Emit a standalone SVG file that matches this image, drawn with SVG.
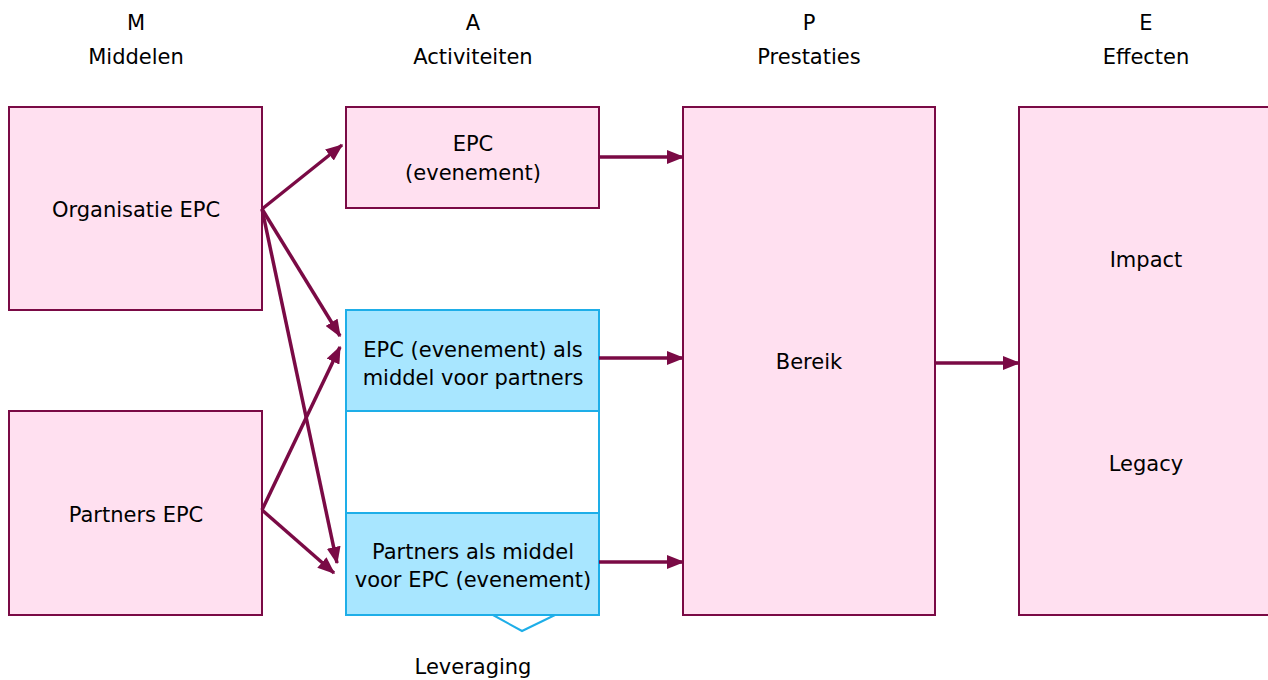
<svg xmlns="http://www.w3.org/2000/svg" width="1268" height="680" viewBox="0 0 1268 680">
<style>
text{font-family:"DejaVu Sans","Liberation Sans",sans-serif;font-size:21px;fill:#000;text-anchor:middle}
.pink{fill:#FFE0F0;stroke:#7A0A45;stroke-width:2}
.blue{fill:#A8E6FF;stroke:#1EAEE8;stroke-width:2}
.white{fill:#FFFFFF;stroke:#1EAEE8;stroke-width:2}
.conn line{stroke:#7A0A45;stroke-width:3.5;marker-end:url(#ah)}
</style>
<defs>
<marker id="ah" markerWidth="5" markerHeight="4" refX="4.6" refY="2" orient="auto" markerUnits="strokeWidth">
<path d="M0,0 L5,2 L0,4 Z" fill="#7A0A45"/>
</marker>
</defs>
<rect width="1268" height="680" fill="#fff"/>
<g id="headers">
<text x="136" y="30">M</text><text x="136" y="64">Middelen</text>
<text x="473" y="30">A</text><text x="473" y="64">Activiteiten</text>
<text x="809" y="30">P</text><text x="809" y="64">Prestaties</text>
<text x="1146" y="30">E</text><text x="1146" y="64">Effecten</text>
</g>
<g id="organisatie">
<rect class="pink" x="9" y="107" width="253" height="203"/>
<text x="136" y="217">Organisatie EPC</text>
</g>
<g id="partners">
<rect class="pink" x="9" y="411" width="253" height="204"/>
<text x="136" y="522">Partners EPC</text>
</g>
<g id="epc">
<rect class="pink" x="346" y="107" width="253" height="101"/>
<text x="473" y="151">EPC</text>
<text x="473" y="180">(evenement)</text>
</g>
<g id="leveraging">
<rect class="white" x="346" y="411" width="253" height="102"/>
<path d="M493,615 L522,631 L555,615" fill="none" stroke="#1EAEE8" stroke-width="2"/>
<text x="473" y="674">Leveraging</text>
</g>
<g id="epc-middel">
<rect class="blue" x="346" y="310" width="253" height="101"/>
<text x="473" y="357">EPC (evenement) als</text>
<text x="473" y="385">middel voor partners</text>
</g>
<g id="partners-middel">
<rect class="blue" x="346" y="513" width="253" height="102"/>
<text x="473" y="559">Partners als middel</text>
<text x="473" y="587">voor EPC (evenement)</text>
</g>
<g id="bereik">
<rect class="pink" x="683" y="107" width="252" height="508"/>
<text x="809" y="369">Bereik</text>
</g>
<g id="effecten">
<rect class="pink" x="1019" y="107" width="260" height="508"/>
<text x="1146" y="267">Impact</text>
<text x="1146" y="471">Legacy</text>
</g>
<g id="connectors" class="conn">
<line x1="262" y1="209" x2="342" y2="145"/>
<line x1="262" y1="209" x2="340" y2="336"/>
<line x1="262" y1="209" x2="337" y2="563"/>
<line x1="262" y1="510" x2="340" y2="347"/>
<line x1="262" y1="510" x2="334" y2="573"/>
<line x1="599" y1="157" x2="683" y2="157"/>
<line x1="599" y1="358" x2="683" y2="358"/>
<line x1="599" y1="562" x2="683" y2="562"/>
<line x1="935" y1="363" x2="1019" y2="363"/>
</g>
</svg>
